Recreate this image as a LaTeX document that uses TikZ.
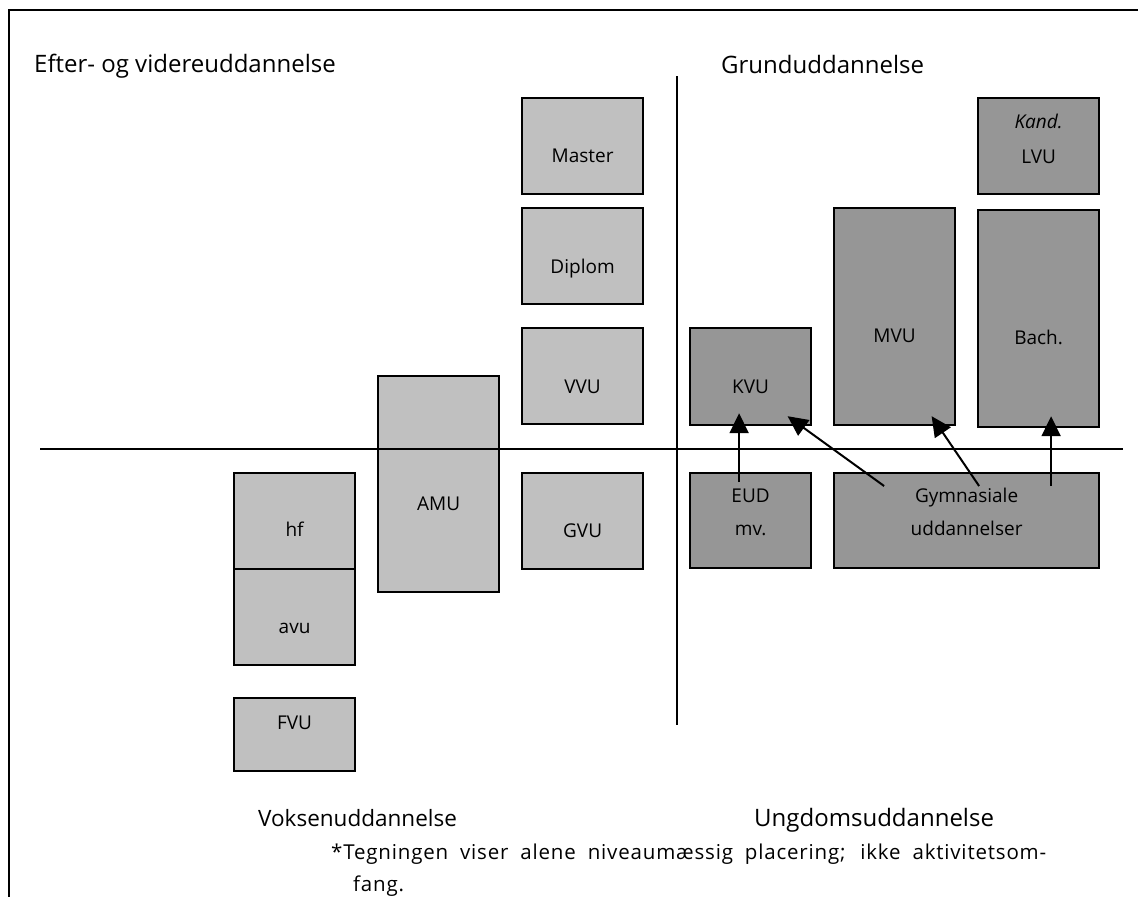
\documentclass[tikz,border=0pt]{standalone}
\usepackage{fontspec}
\setmainfont{Open Sans}
\newfontfamily\notefont{Open Sans}[LetterSpace=4]
\usetikzlibrary{arrows.meta,calc}
\definecolor{lightbox}{HTML}{C0C0C0}
\definecolor{darkbox}{HTML}{969696}
\tikzset{
  boxbase/.style={draw=black,line width=2.2pt,inner sep=0pt,anchor=north west},
  lbox/.style={boxbase,fill=lightbox},
  dbox/.style={boxbase,fill=darkbox},
  lbl/.style={font=\fontsize{19}{21}\selectfont,anchor=base,inner sep=0pt},
  heading/.style={font=\fontsize{24}{28}\selectfont,anchor=base west,inner sep=0pt},
  note/.style={font=\notefont\fontsize{20.5}{22}\selectfont,anchor=base west,inner sep=0pt},
  arr/.style={line width=2pt,-{Triangle[length=20pt,width=19pt]}},
  rule/.style={line width=1.6pt}
}
\begin{document}
\begin{tikzpicture}[x=1pt,y=-1pt]
\useasboundingbox (0,0) rectangle (1138,897);
% frame
\coordinate (ftr) at (1138,10);
\coordinate (ftl) at (9,10);
\coordinate (fbl) at (9,897);
\draw[line width=1.2pt] (ftr) -- (ftl) -- (fbl);
% axes
\coordinate (hl) at (40,449);
\coordinate (hr) at (1123,449);
\coordinate (vt) at (677,76);
\coordinate (vb) at (677,725);
% boxes (light)
\node[lbox,minimum width=121pt,minimum height=96pt] (master) at (521,97) {};
\node[lbox,minimum width=121pt,minimum height=96pt] (diplom) at (521,207) {};
\node[lbox,minimum width=121pt,minimum height=96pt] (vvu) at (521,327) {};
\node[lbox,minimum width=121pt,minimum height=96pt] (gvu) at (521,472) {};
\node[lbox,minimum width=121pt,minimum height=216pt] (amu) at (377,375) {};
\node[lbox,minimum width=121pt,minimum height=96pt] (hf) at (233,472) {};
\node[lbox,minimum width=121pt,minimum height=96pt] (avu) at (233,568) {};
\node[lbox,minimum width=121pt,minimum height=73pt] (fvu) at (233,697) {};
% boxes (dark)
\node[dbox,minimum width=121pt,minimum height=96pt] (lvu) at (977,97) {};
\node[dbox,minimum width=121pt,minimum height=217pt] (bach) at (977,209) {};
\node[dbox,minimum width=121pt,minimum height=217pt] (mvu) at (833,207) {};
\node[dbox,minimum width=121pt,minimum height=97pt] (kvu) at (689,327) {};
\node[dbox,minimum width=121pt,minimum height=95pt] (eud) at (689,472) {};
\node[dbox,minimum width=265pt,minimum height=95pt] (gym) at (833,472) {};
% horizontal rule drawn over the boxes
\draw[rule] (hl) -- (hr);
\draw[line width=2pt] (vt) -- (vb);
% labels
\node[lbl] (tmaster) at (master.north |- 0,162) {Master};
\node[lbl] (tdiplom) at (diplom.north |- 0,273) {Diplom};
\node[lbl] (tvvu) at (vvu.north |- 0,393) {VVU};
\node[lbl] (tgvu) at (gvu.north |- 0,537) {GVU};
\node[lbl] (tamu) at (amu.north |- 0,510) {AMU};
\node[lbl] (thf) at (hf.north |- 0,536) {hf};
\node[lbl] (tavu) at (avu.north |- 0,633) {avu};
\node[lbl] (tfvu) at (fvu.north |- 0,729) {FVU};
\node[lbl] (tkand) at (lvu.north |- 0,128) {\itshape Kand.};
\node[lbl] (tlvu) at (lvu.north |- 0,163) {LVU};
\node[lbl] (tbach) at (bach.north |- 0,344) {Bach.};
\node[lbl] (tmvu) at (mvu.north |- 0,342) {MVU};
\node[lbl] (tkvu) at (kvu.north |- 0,393) {KVU};
\node[lbl] (teud) at (eud.north |- 0,502) {EUD};
\node[lbl] (tmv) at (eud.north |- 0,535) {mv.};
\node[lbl] (tgym) at (gym.north |- 0,502) {Gymnasiale};
\node[lbl] (tudd) at (gym.north |- 0,535) {uddannelser};
% headings
\node[heading] (h1) at (34,72) {Efter- og videreuddannelse};
\node[heading] (h2) at (721,73) {Grunduddannelse};
\node[heading,font=\fontsize{22.5}{26}\selectfont] (h3) at (258,826) {Voksenuddannelse};
\node[heading] (h4) at (754,826) {Ungdomsuddannelse};
% footnote
\node[note] (n1) at (331,859) {\makebox[715pt][s]{*Tegningen viser alene niveaumæssig placering; ikke aktivitetsom-}};
\node[note] (n2) at (353,891) {fang.};
% arrows
\coordinate (a1s) at ($(eud.north)+(-11.5,10)$);
\coordinate (a1e) at ($(kvu.south)+(-11.5,-13)$);
\coordinate (a2s) at ($(gym.north)+(-82.5,14)$);
\coordinate (a2e) at ($(kvu.south)+(37,-10)$);
\coordinate (a3s) at ($(gym.north)+(12.5,14)$);
\coordinate (a3e) at ($(mvu.south)+(37,-10)$);
\coordinate (a4s) at ($(gym.north)+(84.5,14)$);
\coordinate (a4e) at ($(bach.south)+(12.5,-12)$);
\draw[arr] (a1s) -- (a1e);
\draw[arr] (a2s) -- (a2e);
\draw[arr] (a3s) -- (a3e);
\draw[arr] (a4s) -- (a4e);
\end{tikzpicture}
\end{document}
